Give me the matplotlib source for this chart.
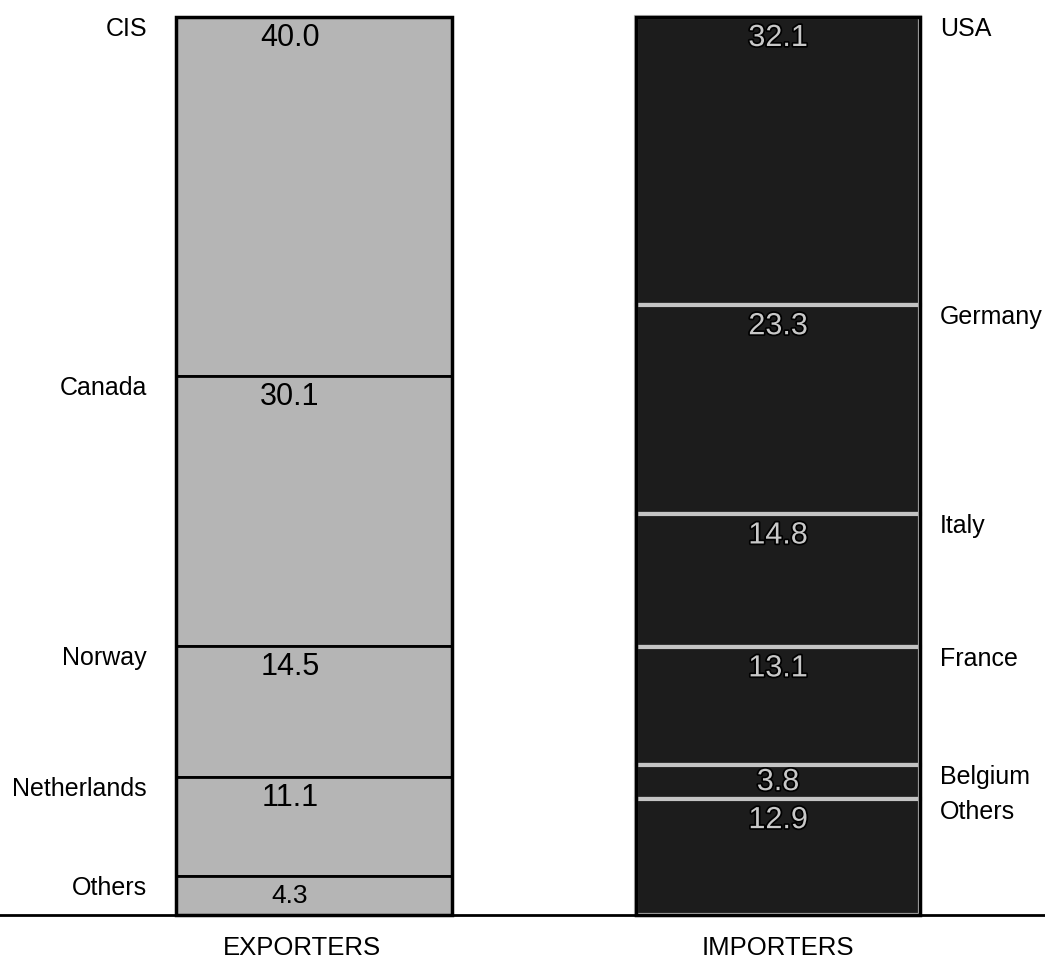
import matplotlib.pyplot as plt
import matplotlib.patheffects as pe

plt.rcParams['font.family'] = ['Liberation Sans', 'DejaVu Sans']

# shares in percent, listed from top of the bar downwards
exporters = ['CIS', 'Canada', 'Norway', 'Netherlands', 'Others']
exp_share = [40.0, 30.1, 14.5, 11.1, 4.3]

importers = ['USA', 'Germany', 'Italy', 'France', 'Belgium', 'Others']
imp_share = [32.1, 23.3, 14.8, 13.1, 3.8, 12.9]

# scale: 1 unit = 8.98 px, baseline at 915 px from top
px = 8.98
fig = plt.figure(figsize=(10.45, 9.73), dpi=100)
ax = fig.add_axes([0, 0, 1, 1])
ax.set_xlim(0, 1045)
ax.set_ylim(-(973 - 915) / px, 915 / px)
ax.axis('off')


def draw_stack(x0, width, names, shares, fill, edge, seg_lw, txt_color,
               value_x, label_x, ha, dark):
    top = sum(shares)
    label_y = []
    for name, v in zip(names, shares):
        bottom = top - v
        ax.bar(x0, v, width=width, bottom=bottom, align='edge', color=fill,
               edgecolor=edge, linewidth=seg_lw, zorder=2)
        # value label near segment top, centred for small ones
        vy = top - min(21 / px, v / 2)
        fs = 19 if v < 5 and not dark else 22
        t = ax.text(value_x, vy, f'{v:.1f}', ha='center', va='center',
                    fontsize=fs, color=txt_color, zorder=4)
        if dark:
            t.set_path_effects([pe.withStroke(linewidth=2.5, foreground='black')])
        label_y.append(top)
        top = bottom
    # name labels
    prev = None
    for name, y in zip(names, label_y):
        ly = min(y - 12 / px, 100 - 8 / px)
        if prev is not None and prev - ly < 3.9:
            ly = prev - 3.9
        ax.text(label_x, ly, name, ha=ha, va='center', fontsize=18, color='black')
        prev = ly
    # outer frame
    ax.bar(x0, sum(shares), width=width, bottom=0, align='edge', fill=False,
           edgecolor='black', linewidth=2.5, zorder=3)


draw_stack(176, 276, exporters, exp_share, '#b5b5b5', 'black', 2, 'black',
           290, 147, 'right', False)
draw_stack(636, 284, importers, imp_share, '#1c1c1c', '#c4c4c4', 3, '#c8c8c8',
           778, 940, 'left', True)

ax.axhline(0, color='black', linewidth=2, zorder=5)

ax.text(302, -33 / px, 'EXPORTERS', ha='center', va='center', fontsize=18.5)
ax.text(778, -33 / px, 'IMPORTERS', ha='center', va='center', fontsize=18.5)

fig.savefig('out.png', dpi=100)
